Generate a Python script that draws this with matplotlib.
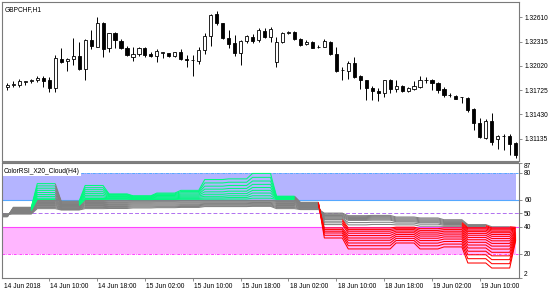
import matplotlib
matplotlib.use('Agg')
import matplotlib.pyplot as plt
import matplotlib.transforms as mtransforms
from matplotlib.patches import Rectangle
import numpy as np

plt.rcParams['font.family'] = ['Liberation Sans', 'DejaVu Sans']

# ---------------- data ----------------
symbol_title = "GBPCHF,H1"
indicator_title = "ColorRSI_X20_Cloud(H4)"

opens = [1.31757, 1.31785, 1.31781, 1.31828, 1.31840, 1.31842, 1.31866, 1.31842, 1.31745, 1.32105,
         1.32077, 1.32105, 1.32138, 1.31976, 1.32333, 1.32252, 1.32537, 1.32232, 1.32415, 1.32325,
         1.32240, 1.32122, 1.32159, 1.32240, 1.32159, 1.32135, 1.32181, 1.32171, 1.32138, 1.32191,
         1.32098, 1.32092, 1.32081, 1.32212, 1.32382, 1.32650, 1.32537, 1.32361, 1.32293, 1.32179,
         1.32321, 1.32374, 1.32333, 1.32447, 1.32366, 1.32069, 1.32313, 1.32415, 1.32435, 1.32342,
         1.32281, 1.32313, 1.32254, 1.32252, 1.32313, 1.32163, 1.31964, 1.31959, 1.32049, 1.31895,
         1.31846, 1.31752, 1.31715, 1.31684, 1.31846, 1.31732, 1.31773, 1.31712, 1.31732, 1.31757,
         1.31843, 1.31846, 1.31813, 1.31732, 1.31665, 1.31654, 1.31636, 1.31623, 1.31489, 1.31318,
         1.31147, 1.31350, 1.31135, 1.31161, 1.31163, 1.31082]
highs = [1.31809, 1.31830, 1.31854, 1.31837, 1.31862, 1.31895, 1.31895, 1.31879, 1.32151, 1.32232,
         1.32118, 1.32354, 1.32313, 1.32342, 1.32455, 1.32610, 1.32557, 1.32422, 1.32427, 1.32346,
         1.32260, 1.32252, 1.32252, 1.32252, 1.32191, 1.32220, 1.32191, 1.32179, 1.32191, 1.32220,
         1.32151, 1.32151, 1.32252, 1.32415, 1.32650, 1.32691, 1.32544, 1.32455, 1.32394, 1.32333,
         1.32398, 1.32407, 1.32476, 1.32476, 1.32488, 1.32366, 1.32427, 1.32443, 1.32443, 1.32354,
         1.32330, 1.32325, 1.32272, 1.32342, 1.32325, 1.32252, 1.32008, 1.32077, 1.32122, 1.31907,
         1.31849, 1.31773, 1.31745, 1.31849, 1.31854, 1.31846, 1.31785, 1.31764, 1.31837, 1.31895,
         1.31886, 1.31854, 1.31825, 1.31757, 1.31684, 1.31663, 1.31642, 1.31642, 1.31501, 1.31379,
         1.31367, 1.31447, 1.31175, 1.31196, 1.31196, 1.31094]
lows = [1.31724, 1.31757, 1.31757, 1.31789, 1.31806, 1.31825, 1.31764, 1.31696, 1.31696, 1.32057,
        1.31959, 1.32029, 1.31968, 1.31846, 1.32220, 1.32248, 1.32130, 1.32191, 1.32240, 1.32224,
        1.32138, 1.32077, 1.32138, 1.32122, 1.32122, 1.32069, 1.32114, 1.32126, 1.32126, 1.32090,
        1.32008, 1.31895, 1.32041, 1.32159, 1.32264, 1.32516, 1.32342, 1.32240, 1.32142, 1.32025,
        1.32300, 1.32300, 1.32313, 1.32354, 1.32309, 1.32008, 1.32300, 1.32407, 1.32333, 1.32264,
        1.32272, 1.32232, 1.32236, 1.32244, 1.32154, 1.31947, 1.31846, 1.31854, 1.31866, 1.31732,
        1.31602, 1.31602, 1.31590, 1.31635, 1.31691, 1.31703, 1.31703, 1.31703, 1.31724, 1.31745,
        1.31806, 1.31724, 1.31684, 1.31642, 1.31642, 1.31610, 1.31569, 1.31459, 1.31236, 1.31147,
        1.31135, 1.31054, 1.31013, 1.30993, 1.30932, 1.30904]
closes = [1.31785, 1.31793, 1.31830, 1.31830, 1.31842, 1.31866, 1.31837, 1.31745, 1.32110, 1.32069,
          1.32105, 1.32138, 1.31976, 1.32333, 1.32260, 1.32537, 1.32220, 1.32415, 1.32333, 1.32240,
          1.32151, 1.32163, 1.32240, 1.32151, 1.32138, 1.32203, 1.32183, 1.32138, 1.32183, 1.32098,
          1.32096, 1.32090, 1.32212, 1.32386, 1.32638, 1.32537, 1.32361, 1.32281, 1.32179, 1.32321,
          1.32382, 1.32321, 1.32455, 1.32366, 1.32467, 1.32313, 1.32415, 1.32435, 1.32342, 1.32272,
          1.32313, 1.32240, 1.32252, 1.32325, 1.32163, 1.31956, 1.31968, 1.32049, 1.31886, 1.31846,
          1.31745, 1.31712, 1.31691, 1.31846, 1.31732, 1.31773, 1.31712, 1.31745, 1.31773, 1.31846,
          1.31846, 1.31813, 1.31724, 1.31663, 1.31663, 1.31618, 1.31635, 1.31480, 1.31318, 1.31157,
          1.31350, 1.31094, 1.31163, 1.31163, 1.31074, 1.30932]

price_ticks = [1.31135, 1.31430, 1.31725, 1.32020, 1.32315, 1.32610]
rsi_ticks = [2, 20, 40, 50, 60, 80, 87]

# x tick labels: bar index of each labelled hour (bar 0 = 14 Jun 03:00)
time_tick_bars = [7, 15, 23, 31, 39, 47, 55, 63, 71, 79]
time_tick_labels = ["14 Jun 10:00", "14 Jun 18:00", "15 Jun 02:00", "15 Jun 10:00",
                    "15 Jun 18:00", "18 Jun 02:00", "18 Jun 10:00", "18 Jun 18:00",
                    "19 Jun 02:00", "19 Jun 10:00"]
first_date_label = "14 Jun 2018"

# H4 RSI values (18 lines, fastest first) for each H4 bar
h4_00 = [47.5, 47.6, 47.7, 47.8, 47.9, 48.0, 48.2, 48.3, 48.4, 48.5, 48.7, 48.8, 48.9, 49.0, 49.2, 49.3, 49.5, 49.7]
h4_01 = [54.5, 54.2, 53.9, 53.6, 53.3, 53.0, 52.7, 52.4, 52.1, 51.8, 51.5, 51.2, 50.9, 50.6, 50.3, 50.0, 49.8, 49.5]
h4_02 = [72.0, 70.3, 68.6, 67.0, 65.4, 63.9, 62.5, 61.2, 60.3, 59.5, 58.8, 58.0, 57.3, 56.5, 55.8, 55.0, 54.3, 53.5]
h4_03 = [59.0, 58.6, 58.2, 57.8, 57.4, 57.0, 56.6, 56.2, 55.8, 55.4, 55.0, 54.6, 54.2, 53.8, 53.5, 53.2, 52.8, 52.5]
h4_04 = [70.6, 69.0, 67.5, 66.0, 64.6, 63.3, 62.1, 61.0, 60.3, 59.5, 58.8, 58.0, 57.3, 56.5, 55.8, 55.0, 54.3, 53.5]
h4_05 = [64.4, 63.9, 63.4, 62.9, 62.4, 61.9, 61.4, 60.9, 60.4, 59.6, 58.9, 58.1, 57.4, 56.6, 55.9, 55.1, 54.4, 53.6]
h4_06 = [63.0, 62.7, 62.3, 62.0, 61.6, 61.3, 60.9, 60.6, 60.2, 59.6, 58.9, 58.2, 57.5, 56.8, 56.1, 55.4, 54.7, 54.0]
h4_07 = [65.0, 64.4, 63.8, 63.2, 62.6, 62.0, 61.4, 60.8, 60.3, 59.6, 58.9, 58.3, 57.6, 56.9, 56.2, 55.5, 54.9, 54.2]
h4_08 = [67.0, 66.1, 65.2, 64.3, 63.5, 62.7, 61.9, 61.1, 60.4, 59.6, 59.0, 58.3, 57.7, 57.0, 56.4, 55.7, 55.1, 54.4]
h4_09 = [75.0, 72.5, 70.1, 67.9, 65.9, 64.1, 62.6, 61.4, 60.5, 59.6, 59.0, 58.4, 57.8, 57.2, 56.7, 56.1, 55.5, 55.0]
h4_10 = [75.5, 73.0, 70.6, 68.4, 66.4, 64.6, 63.0, 61.7, 60.6, 59.6, 59.0, 58.4, 57.8, 57.2, 56.7, 56.1, 55.5, 55.0]
h4_11 = [79.5, 76.6, 73.9, 71.4, 69.1, 67.0, 65.0, 63.0, 61.2, 59.6, 59.1, 58.5, 58.0, 57.4, 56.8, 56.3, 55.7, 55.2]
h4_12 = [62.7, 62.4, 62.1, 61.8, 61.5, 61.2, 60.9, 60.6, 60.3, 59.6, 58.8, 58.1, 57.3, 56.6, 55.8, 55.0, 54.3, 53.5]
h4_13 = [58.2, 57.9, 57.6, 57.2, 56.9, 56.6, 56.3, 56.0, 55.7, 55.3, 55.0, 54.7, 54.4, 54.1, 53.8, 53.4, 53.1, 52.8]
h4_14 = [31.8, 33.8, 35.5, 36.8, 38.0, 39.2, 41.7, 43.0, 44.2, 45.4, 46.0, 46.6, 47.2, 47.8, 48.4, 49.0, 49.6, 50.2]
h4_15 = [23.7, 26.1, 28.1, 30.1, 31.8, 33.6, 35.3, 36.8, 38.0, 39.2, 41.5, 43.2, 44.8, 45.5, 46.2, 46.9, 47.6, 48.3]
h4_16 = [23.7, 26.1, 28.1, 30.1, 31.8, 33.6, 35.3, 36.8, 38.0, 39.2, 41.8, 43.4, 45.0, 45.7, 46.4, 47.1, 47.8, 48.5]
h4_17 = [28.1, 29.9, 31.5, 33.0, 34.4, 35.7, 36.9, 38.0, 39.0, 39.8, 41.5, 42.8, 43.8, 44.5, 45.2, 45.9, 46.6, 47.3]
h4_18 = [23.7, 26.0, 28.0, 29.9, 31.6, 33.2, 34.7, 36.1, 37.4, 38.7, 40.5, 42.0, 43.1, 43.8, 44.5, 45.2, 45.9, 46.6]
h4_19 = [25.2, 27.3, 29.2, 31.0, 32.6, 34.1, 35.5, 36.8, 38.0, 39.2, 40.4, 41.2, 41.8, 42.5, 43.2, 43.9, 44.6, 45.3]
h4_20 = [13.3, 16.5, 19.4, 22.0, 24.4, 26.6, 28.6, 30.5, 32.2, 33.8, 35.2, 36.5, 37.6, 38.6, 39.4, 40.3, 41.0, 41.7]
h4_21 = [9.6, 12.8, 15.8, 18.6, 21.2, 23.6, 25.8, 27.8, 29.7, 31.4, 33.0, 34.4, 35.7, 36.8, 37.8, 38.6, 39.3, 40.1]
h4_22 = [30.0, 30.8, 31.6, 32.4, 33.1, 33.8, 34.4, 35.0, 35.6, 36.1, 36.6, 37.1, 37.6, 38.1, 38.5, 38.9, 39.3, 39.7]
h4_blocks = [h4_00, h4_01, h4_02, h4_03, h4_04, h4_05, h4_06, h4_07, h4_08, h4_09, h4_10, h4_11,
             h4_12, h4_13, h4_14, h4_15, h4_16, h4_17, h4_18, h4_19, h4_20, h4_21, h4_22]

high_level, low_level, mid_level = 60, 40, 50
top_level, bottom_level = 80, 20

# ---------------- figure layout (pixel based) ----------------
W, H = 560, 294
fig = plt.figure(figsize=(W / 100, H / 100), dpi=100)
fig.patch.set_facecolor('white')


def rect(x0, y0, x1, y1):
    return [x0 / W, 1 - y1 / H, (x1 - x0) / W, (y1 - y0) / H]


ax1 = fig.add_axes(rect(2.3, 1.7, 519.3, 160.8))
ax2 = fig.add_axes(rect(2.3, 163.3, 519.3, 278.3))

# separator bar between the two windows
fig.patches.append(Rectangle((2.3 / W, 1 - 163.3 / H), 517.0 / W, 2.5 / H,
                             transform=fig.transFigure, facecolor='#7f7f7f',
                             edgecolor='none', zorder=10))

XMIN, XMAX = -0.85, 85.6
FS = 4.8
frame_col = '#7a7a7a'

for ax in (ax1, ax2):
    ax.set_xlim(XMIN, XMAX)
    for s in ax.spines.values():
        s.set_color(frame_col)
        s.set_linewidth(0.8)
    ax.set_facecolor('white')

# ---------------- candles ----------------
n = len(opens)
bw = 0.52
for i in range(n):
    o, h, l, c = opens[i], highs[i], lows[i], closes[i]
    ax1.plot([i, i], [l, h], color='black', lw=0.7, solid_capstyle='butt', zorder=2)
    lo, hi = min(o, c), max(o, c)
    fc = 'white' if c >= o else 'black'
    ax1.add_patch(Rectangle((i - bw / 2, lo), bw, max(hi - lo, 0.000015),
                            facecolor=fc, edgecolor='black', lw=0.6, zorder=3))

ax1.set_ylim(1.30864, 1.32800)
ax1.yaxis.tick_right()
ax1.set_yticks(price_ticks)
ax1.set_yticklabels([f"{p:.5f}" for p in price_ticks])
ax1.tick_params(axis='y', direction='out', length=2.0, width=0.6, color=frame_col,
                pad=1.5, labelsize=FS)
ax1.tick_params(axis='x', bottom=False, labelbottom=False)
ax1.text(0.004, 0.975, symbol_title, transform=ax1.transAxes, ha='left', va='top', fontsize=FS)

# ---------------- indicator ----------------
ax2.set_ylim(2, 87)
bars = np.arange(-1, n)
block_of = (bars + 3) // 4
vals = np.array(h4_blocks)[block_of]

lav = '#b4b4ff'
pink = '#ffb6ff'
ax2.fill_between([XMIN - 1, n - 1], high_level, top_level, color=lav, lw=0, zorder=1)
ax2.fill_between([XMIN - 1, n - 1], bottom_level, low_level, color=pink, lw=0, zorder=1)

blue = '#55a8ff'
mag = '#ff44ff'
ax2.axhline(top_level, color=blue, lw=0.7, dashes=(3.0, 1.0, 0.8, 1.0), zorder=2)
ax2.axhline(high_level, color=blue, lw=0.8, zorder=2)
ax2.axhline(mid_level, color='#b070f0', lw=0.7, dashes=(4.0, 2.2), zorder=2)
ax2.axhline(low_level, color=mag, lw=0.8, zorder=2)
ax2.axhline(bottom_level, color=mag, lw=0.7, dashes=(3.0, 1.0, 0.8, 1.0), zorder=2)

green, gray, red = '#00fa7d', '#808080', '#ff0000'


def lcol(v):
    if v > high_level:
        return green
    if v < low_level:
        return red
    return gray


# each line drawn as polylines of equal colour (segment colour = colour at its right bar)
runs = []
for j in range(vals.shape[1]):
    v = vals[:, j]
    cur_c = None
    pts = []
    for i in range(1, len(bars)):
        c = lcol(v[i])
        if c != cur_c:
            if pts:
                runs.append((cur_c, pts))
            pts = [(bars[i - 1], v[i - 1])]
            cur_c = c
        pts.append((bars[i], v[i]))
    runs.append((cur_c, pts))

for c, pts in sorted(runs, key=lambda r: 0 if r[0] == gray else 1):
    px, py = zip(*pts)
    ax2.plot(px, py, color=c, lw=0.75, solid_joinstyle='miter', solid_capstyle='butt',
             zorder=3 if c == gray else 4)

ax2.text(0.003, 0.955, indicator_title, transform=ax2.transAxes, ha='left', va='top',
         fontsize=FS, zorder=6,
         bbox=dict(boxstyle='square,pad=0.15', facecolor='white', edgecolor='none'))

ax2.yaxis.tick_right()
ax2.set_yticks(rsi_ticks)
ax2.set_yticklabels([str(t) for t in rsi_ticks])
ax2.tick_params(axis='y', direction='out', length=2.0, width=0.6, color=frame_col,
                pad=1.5, labelsize=FS)
for lbl in ax2.get_yticklabels():
    if lbl.get_text() == '87':
        lbl.set_va('top')
    elif lbl.get_text() == '2':
        lbl.set_va('bottom')

ax2.set_xticks(time_tick_bars)
ax2.tick_params(axis='x', direction='out', length=2.2, width=0.6, color=frame_col,
                labelbottom=False)
trans = mtransforms.blended_transform_factory(ax2.transData, ax2.transAxes)
off = mtransforms.offset_copy(trans, fig=fig, x=1.2, y=-7.8, units='dots')
for b, t in zip(time_tick_bars, time_tick_labels):
    ax2.text(b, 0, t, transform=off, ha='left', va='center', fontsize=FS)
ax2.text(XMIN, 0, first_date_label, transform=off, ha='left', va='center', fontsize=FS)

fig.savefig('out.png', dpi=100, facecolor='white')
